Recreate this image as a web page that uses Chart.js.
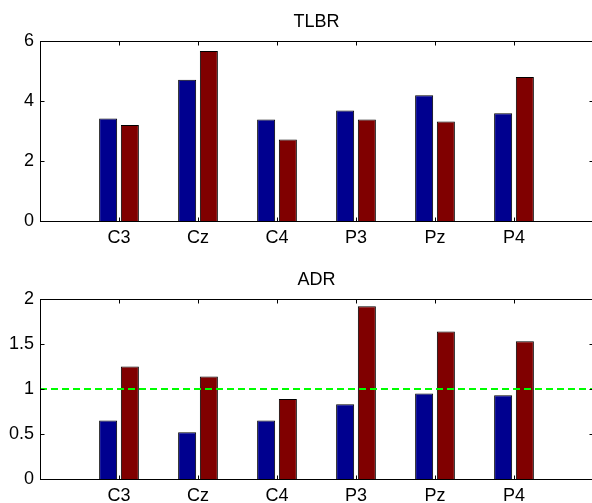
<!DOCTYPE html>
<html>
<head>
<meta charset="utf-8">
<script src="https://cdn.jsdelivr.net/npm/chart.js@4.4.1/dist/chart.umd.min.js"></script>
<style>
  html, body { margin: 0; padding: 0; background: #fff; overflow: hidden; }
  #wrap { width: 592px; height: 503px; overflow: hidden; position: relative; }
  canvas { display: block; position: absolute; left: 0; }
</style>
</head>
<body>
<div id="wrap">
  <canvas id="tlbrChart" width="600" height="250" style="top:0"></canvas>
  <canvas id="adrChart" width="600" height="253" style="top:250px"></canvas>
</div>
<script>
// Data
const channels = ['C3', 'Cz', 'C4', 'P3', 'Pz', 'P4'];
const tlbrBlue = [3.42, 4.71, 3.38, 3.68, 4.19, 3.59];
const tlbrRed = [3.20, 5.67, 2.72, 3.38, 3.32, 4.80];
const adrBlue = [0.65, 0.52, 0.65, 0.83, 0.95, 0.93];
const adrRed = [1.25, 1.14, 0.89, 1.92, 1.64, 1.53];
const adrThreshold = 1;

// axis runs 0..7, channels sit at 1..6
const axisLabels = ['', ...channels, ''];
function pad(arr) { return [null, ...arr, null]; }

const FONT = { family: '"Liberation Sans", Arial, Helvetica, sans-serif', size: 18 };

// MATLAB-style box with inward ticks
const boxTicks = {
    id: 'boxTicks',
    afterDraw(chart) {
        const ctx = chart.ctx;
        const a = chart.chartArea;
        const L = Math.floor(a.left) + 0.5, R = Math.floor(a.right) + 0.5;
        const T = Math.floor(a.top) + 0.5, B = Math.floor(a.bottom) + 0.5;
        ctx.save();
        ctx.strokeStyle = '#000';
        ctx.lineWidth = 1;
        ctx.strokeRect(L, T, R - L, B - T);
        const len = 4;
        ctx.beginPath();
        const xs = chart.scales.x;
        for (let i = 1; i <= channels.length; i++) {
            const px = Math.round(xs.getPixelForValue(i)) + 0.5;
            ctx.moveTo(px, B); ctx.lineTo(px, B - len);
            ctx.moveTo(px, T); ctx.lineTo(px, T + len);
        }
        const ys = chart.scales.y;
        ys.ticks.forEach(t => {
            const py = Math.round(ys.getPixelForValue(t.value)) + 0.5;
            ctx.moveTo(L, py); ctx.lineTo(L + len, py);
            ctx.moveTo(R, py); ctx.lineTo(R - len, py);
        });
        ctx.stroke();
        ctx.restore();
    }
};

function makeChart(id, title, blue, red, yMax, yStep, titlePad, xHeight, withLine) {
    const datasets = [];
    if (withLine) {
        datasets.push({
            type: 'line',
            data: axisLabels.map(() => adrThreshold),
            borderColor: '#00ff00',
            borderWidth: 2,
            borderDash: [7, 4],
            pointRadius: 0,
            order: 0
        });
    }
    const barStyle = { borderColor: '#000', borderWidth: 1, categoryPercentage: 0.55, barPercentage: 0.83, order: 1 };
    datasets.push(Object.assign({ type: 'bar', data: pad(blue), backgroundColor: '#00008f' }, barStyle));
    datasets.push(Object.assign({ type: 'bar', data: pad(red), backgroundColor: '#800000' }, barStyle));

    return new Chart(document.getElementById(id).getContext('2d'), {
        type: 'bar',
        data: { labels: axisLabels, datasets: datasets },
        plugins: [boxTicks],
        options: {
            responsive: false,
            animation: false,
            devicePixelRatio: 1,
            layout: { padding: { left: 0, right: 7, top: 0, bottom: 0 } },
            plugins: {
                legend: { display: false },
                tooltip: { enabled: false },
                title: {
                    display: true,
                    text: title,
                    fullSize: false,
                    color: '#000',
                    font: Object.assign({ weight: 'normal' }, FONT),
                    padding: titlePad
                }
            },
            scales: {
                x: {
                    offset: false,
                    grid: { display: false, drawTicks: false },
                    border: { display: false },
                    ticks: { color: '#000', font: FONT, padding: 6, maxRotation: 0, autoSkip: false },
                    afterFit(s) { s.height = xHeight; }
                },
                y: {
                    min: 0,
                    max: yMax,
                    grid: { display: false, drawTicks: false },
                    border: { display: false },
                    ticks: {
                        stepSize: yStep, color: '#000', font: FONT, padding: 6,
                        callback: v => String(Number(v))
                    },
                    afterFit(s) { s.width = 40; }
                }
            }
        }
    });
}

makeChart('tlbrChart', 'TLBR', tlbrBlue, tlbrRed, 6, 2, { top: 11, bottom: 8.4 }, 29, false);
makeChart('adrChart', 'ADR', adrBlue, adrRed, 2, 0.5, { top: 19.7, bottom: 7.7 }, 24, true);
</script>
</body>
</html>
